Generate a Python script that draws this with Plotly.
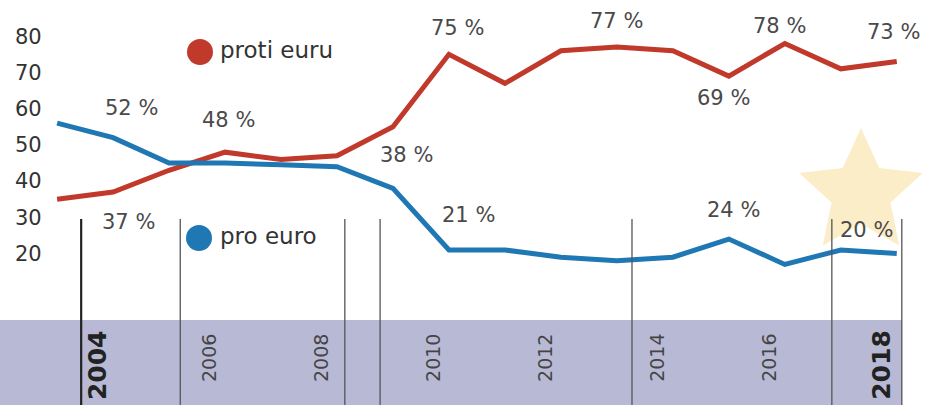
import numpy as np
import plotly.graph_objects as go

# ---- data ----
years = list(range(2003, 2019))
proti_euru = [35, 37, 43, 48, 46, 47, 55, 75, 67, 76, 77, 76, 69, 78, 71, 73]
pro_euro = [56, 52, 45, 45, 44.5, 44, 38, 21, 21, 19, 18, 19, 24, 17, 21, 20]
y_ticks = [20, 30, 40, 50, 60, 70, 80]
year_labels = [2004, 2006, 2008, 2010, 2012, 2014, 2016, 2018]
bold_years = [2004, 2018]
divider_years = [2003.43, 2005.2, 2008.14, 2008.77, 2013.27, 2016.84, 2018.09]
# labelled points: (series, year, text, xshift, yshift)
point_labels = [
    ("pro", 2004, "52 %", 18, 30),
    ("proti", 2004, "37 %", 15, -30),
    ("proti", 2006, "48 %", 3, 32),
    ("pro", 2009, "38 %", 14, 33),
    ("proti", 2010, "75 %", 9, 26),
    ("pro", 2010, "21 %", 20, 35),
    ("proti", 2013, "77 %", 0, 26),
    ("proti", 2015, "69 %", -5, -22),
    ("proti", 2016, "78 %", -5, 17),
    ("proti", 2018, "73 %", -3, 30),
    ("pro", 2015, "24 %", 5, 29),
    ("pro", 2018, "20 %", -30, 24),
]

W, H = 927, 405
RED = "#c0392b"
BLUE = "#1f78b4"
FONT = "DejaVu Sans"

fig = go.Figure()
fig.add_trace(go.Scatter(x=years, y=proti_euru, mode="lines", name="proti euru",
                         line=dict(color=RED, width=5), hoverinfo="skip"))
fig.add_trace(go.Scatter(x=years, y=pro_euro, mode="lines", name="pro euro",
                         line=dict(color=BLUE, width=5), hoverinfo="skip"))


def px_x(p):
    return p / W


def px_y(p):
    return 1 - p / H


shapes = []
# lavender band
shapes.append(dict(type="rect", xref="paper", yref="paper", x0=0, x1=px_x(902),
                   y0=0, y1=px_y(320), fillcolor="#b8bad5", line=dict(width=0), layer="below"))
# star
cx, cy, R, r = 861, 193, 65, 31
pts = []
for i in range(10):
    ang = np.pi / 2 + i * np.pi / 5
    rad = R if i % 2 == 0 else r
    pts.append((cx + rad * np.cos(ang), cy - rad * np.sin(ang)))
path = "M " + " L ".join(f"{px_x(x):.5f},{px_y(y):.5f}" for x, y in pts) + " Z"
shapes.append(dict(type="path", xref="paper", yref="paper", path=path,
                   fillcolor="#fbedc8", line=dict(width=0), layer="below"))
# dividers
for i, dy in enumerate(divider_years):
    shapes.append(dict(type="line", xref="x", yref="paper", x0=dy, x1=dy,
                       y0=0, y1=px_y(219),
                       line=dict(color="#222" if i == 0 else "#555", width=2.2 if i == 0 else 1.3),
                       layer="above"))
# legend dots
for (cxp, cyp, col) in [(200, 52, RED), (199, 238, BLUE)]:
    shapes.append(dict(type="circle", xref="paper", yref="paper",
                       x0=px_x(cxp - 13), x1=px_x(cxp + 13), y0=px_y(cyp + 13), y1=px_y(cyp - 13),
                       fillcolor=col, line=dict(width=0)))

annotations = []
series = {"proti": proti_euru, "pro": pro_euro}
for s, yr, txt, xs, ys in point_labels:
    annotations.append(dict(x=yr, y=series[s][years.index(yr)], xref="x", yref="y",
                            text=txt, showarrow=False, xshift=xs, yshift=ys,
                            font=dict(family=FONT, size=21, color="#4a4a4a")))
for yr in year_labels:
    bold = yr in bold_years
    annotations.append(dict(x=yr, y=px_y(365 if bold else 358), xref="x", yref="paper",
                            text=f"<b>{yr}</b>" if bold else str(yr), textangle=-90,
                            showarrow=False, xshift=-16, yanchor="middle",
                            font=dict(family=FONT, size=25 if bold else 19,
                                      color="#222" if bold else "#444")))
annotations.append(dict(x=px_x(218), y=px_y(50), xref="paper", yref="paper", text="proti euru",
                        showarrow=False, xanchor="left", yanchor="middle",
                        font=dict(family=FONT, size=23, color="#333")))
annotations.append(dict(x=px_x(218), y=px_y(236), xref="paper", yref="paper", text="pro euro",
                        showarrow=False, xanchor="left", yanchor="middle",
                        font=dict(family=FONT, size=23, color="#333")))

fig.update_layout(
    width=W, height=H,
    margin=dict(l=0, r=0, t=0, b=0),
    paper_bgcolor="white", plot_bgcolor="white",
    showlegend=False,
    xaxis=dict(range=[2001.98, 2018.54], showgrid=False, zeroline=False,
               showticklabels=False, ticks="", showline=False, fixedrange=True),
    yaxis=dict(range=[-21.8, 90], showgrid=False, zeroline=False, showline=False,
               tickvals=y_ticks, ticktext=[str(v) for v in y_ticks], ticks="",
               ticklabelposition="inside", ticklabelstandoff=12,
               tickfont=dict(family=FONT, size=21, color="#333"), fixedrange=True),
    shapes=shapes,
    annotations=annotations,
)

fig.write_html("out.html", config={"displayModeBar": False},
               post_script="document.body.style.margin='0';document.body.style.overflow='hidden';")
